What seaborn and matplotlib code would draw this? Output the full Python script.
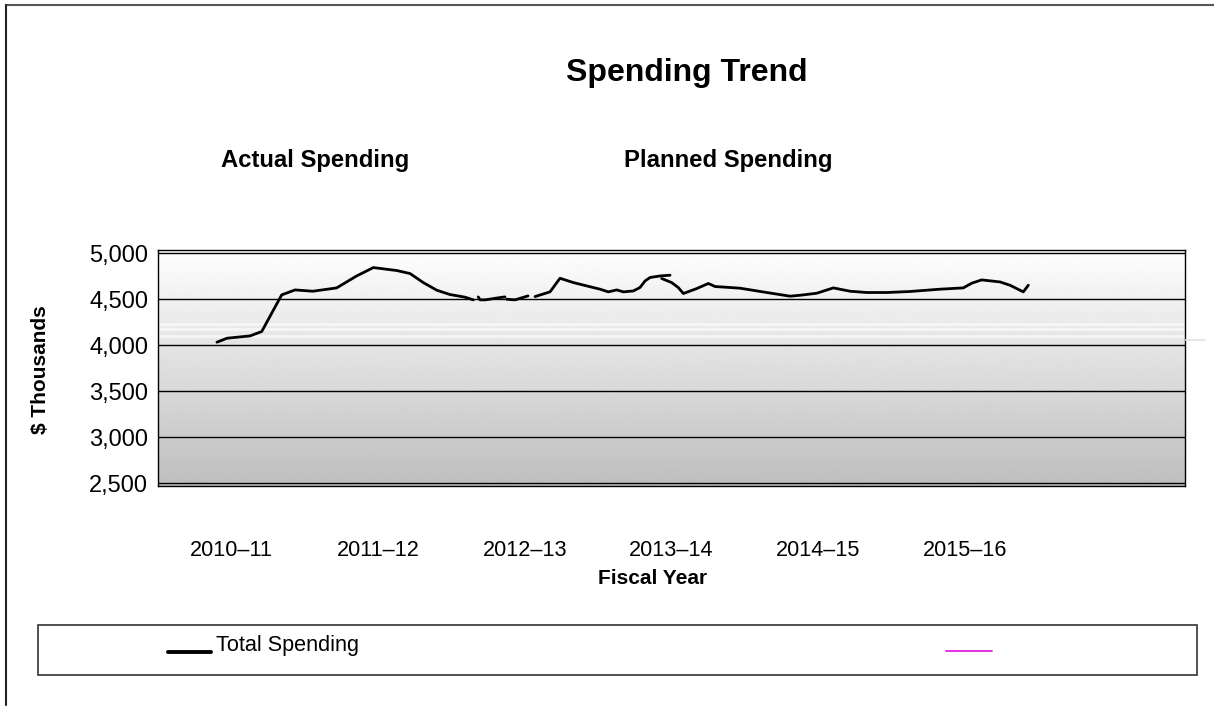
import numpy as np
import pandas as pd
import matplotlib
matplotlib.use("Agg")
import matplotlib.pyplot as plt
from matplotlib.lines import Line2D
from matplotlib.patches import Rectangle
import seaborn as sns

# ---------------- data ----------------
fiscal_years = ["2010–11", "2011–12", "2012–13", "2013–14", "2014–15", "2015–16"]
y_ticks = [2500, 3000, 3500, 4000, 4500, 5000]

# position along the fiscal-year axis (category index units) and value ($ thousands)
seg1_x = [-0.098, -0.030, 0.038, 0.127, 0.207, 0.343, 0.434, 0.556, 0.718, 0.854,
          0.968, 1.127, 1.218, 1.308, 1.400, 1.490, 1.593, 1.649]
seg1_y = [4033, 4076, 4087, 4101, 4149, 4547, 4601, 4587, 4623, 4753,
          4844, 4812, 4779, 4681, 4598, 4551, 4522, 4493]
seg2_x = [1.683, 1.695, 1.729, 1.831, 1.865]
seg2_y = [4525, 4493, 4493, 4518, 4525]
seg3_x = [1.877, 1.933, 2.022]
seg3_y = [4500, 4493, 4536]
seg4_x = [2.070, 2.172, 2.240, 2.331, 2.467, 2.513, 2.569, 2.627, 2.672, 2.740,
          2.785, 2.820, 2.854, 2.922, 2.990]
seg4_y = [4529, 4580, 4728, 4681, 4627, 4609, 4580, 4601, 4580, 4590,
          4627, 4699, 4736, 4753, 4761]
seg5_x = [2.933, 3.001, 3.046, 3.081, 3.172, 3.251, 3.297, 3.467, 3.649, 3.808,
          3.876, 3.990, 4.103, 4.217, 4.330, 4.467, 4.626, 4.830, 4.989, 5.046,
          5.114, 5.239, 5.307, 5.398, 5.432]
seg5_y = [4725, 4681, 4627, 4562, 4616, 4671, 4638, 4620, 4573, 4533,
          4543, 4565, 4623, 4587, 4573, 4573, 4584, 4609, 4623, 4674,
          4710, 4688, 4652, 4580, 4652]

segments = [(seg1_x, seg1_y), (seg2_x, seg2_y), (seg3_x, seg3_y),
            (seg4_x, seg4_y), (seg5_x, seg5_y)]
rows = []
for i, (xs, ys) in enumerate(segments):
    for xv, yv in zip(xs, ys):
        rows.append({"pos": xv, "spend": yv, "seg": i})
df = pd.DataFrame(rows)

# ---------------- style ----------------
sns.set_style("white")
plt.rcParams["font.family"] = ["Liberation Sans", "DejaVu Sans"]
plt.rcParams["text.color"] = "black"
plt.rcParams["xtick.color"] = "black"
plt.rcParams["ytick.color"] = "black"

W, H = 1214, 722
fig = plt.figure(figsize=(W / 100, H / 100), dpi=100)

def fx(px):
    return px / W

def fy(py):
    return 1 - py / H

ax_left, ax_right, ax_top, ax_bot = 158, 1185, 250, 486
ax = fig.add_axes([fx(ax_left), fy(ax_bot), fx(ax_right - ax_left), (ax_bot - ax_top) / H])

# gradient background
grad = np.linspace(0.995, 0.745, 256).reshape(-1, 1)
ax.imshow(grad, extent=[0, 1, 0, 1], transform=ax.transAxes, aspect="auto",
          cmap="gray", vmin=0, vmax=1, zorder=0, interpolation="bilinear")

# faint light stripes (rendering artefacts in the reference)
for v in [4228, 4174, 4098]:
    ax.axhline(v, color="white", lw=2, alpha=0.6, zorder=0.8)

sns.lineplot(data=df, x="pos", y="spend", units="seg", estimator=None, sort=False,
             color="black", lw=2, ax=ax, legend=False, zorder=3)

ax.set_xlim(-0.5, 6.5)
ax.set_ylim(2470, 5035)

ax.set_yticks(y_ticks)
ax.set_yticklabels([f"{v:,}" for v in y_ticks])
ax.yaxis.grid(True, color="black", lw=1)
ax.xaxis.grid(False)
ax.set_axisbelow("line")

ax.set_xticks(np.arange(-0.5, 7.0, 1.0))
ax.set_xticklabels([])
ax.set_xticks(np.arange(len(fiscal_years)), minor=True)
ax.set_xticklabels(fiscal_years, minor=True)
ax.tick_params(axis="x", which="major", direction="out", length=7, width=1, color="black")
ax.tick_params(axis="x", which="minor", length=0, pad=39, labelsize=15.6)
ax.tick_params(axis="y", direction="out", length=6, width=1, color="black",
               pad=1, labelsize=17)

for s in ax.spines.values():
    s.set_visible(True)
    s.set_color("black")
    s.set_linewidth(1)

ax.set_xlabel("")
ax.set_ylabel("")

# texts
fig.text(fx(687), fy(73), "Spending Trend", ha="center", va="center",
         fontsize=23, fontweight="bold")
fig.text(fx(315), fy(161), "Actual Spending", ha="center", va="center",
         fontsize=17.2, fontweight="bold")
fig.text(fx(728), fy(161), "Planned Spending", ha="center", va="center",
         fontsize=17.2, fontweight="bold")
fig.text(fx(653), fy(579), "Fiscal Year", ha="center", va="center",
         fontsize=15, fontweight="bold")
fig.text(fx(41), fy(370), "$ Thousands", ha="center", va="center",
         fontsize=15, fontweight="bold", rotation=90)

# legend box
fig.add_artist(Rectangle((fx(38), fy(675)), fx(1197 - 38), (675 - 625) / H,
                         transform=fig.transFigure, facecolor="white",
                         edgecolor="#333333", lw=1.2))
fig.add_artist(Line2D([fx(168), fx(211)], [fy(652), fy(652)],
                      transform=fig.transFigure, color="black", lw=2.8))
fig.text(fx(216), fy(645), "Total Spending", ha="left", va="center", fontsize=15.6)
fig.add_artist(Line2D([fx(946), fx(992)], [fy(651), fy(651)],
                      transform=fig.transFigure, color="#E020E0", lw=1.3))

# outer frame (top and left edges)
fig.add_artist(Line2D([fx(6), fx(1214)], [fy(5), fy(5)], transform=fig.transFigure,
                      color="#555555", lw=1.5))
fig.add_artist(Line2D([fx(6), fx(6)], [fy(5), fy(705)], transform=fig.transFigure,
                      color="#222222", lw=1.5))

# small artefact line right of plot
fig.add_artist(Line2D([fx(1186), fx(1205)], [fy(340), fy(340)], transform=fig.transFigure,
                      color="#e6e6e6", lw=1.5))

fig.savefig("out.png", dpi=100)
